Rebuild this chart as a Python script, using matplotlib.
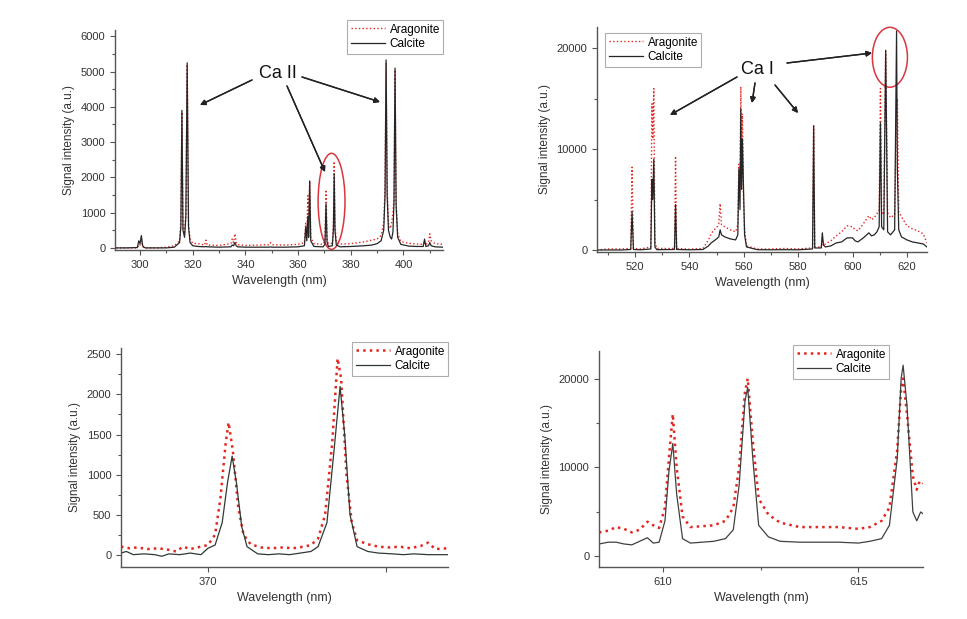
import matplotlib
matplotlib.use("Agg")
import matplotlib.pyplot as plt
from matplotlib.patches import Ellipse
from matplotlib.ticker import MultipleLocator, FixedLocator, FixedFormatter

plt.rcParams['font.family'] = ['Liberation Sans', 'DejaVu Sans']

# --- Panel a : Ca II region (300-415 nm) ---
TL_WL = [291, 295, 299, 299.5, 300, 300.5, 301, 301.5, 302, 306, 310, 313, 315, 315.5,
         315.9, 316.3, 316.9, 317.4, 317.9, 318.4, 319, 320, 322, 324.5, 325, 325.5, 330,
         334.5, 335, 335.5, 336, 336.5, 337, 340, 345, 349, 349.5, 350, 355, 360, 362.4,
         362.9, 363.3, 363.7, 364.0, 364.4, 364.8, 366, 369.5, 370.2, 370.6, 371.0, 371.5,
         373.0, 373.4, 373.7, 374.0, 374.5, 376, 380, 385, 388, 390, 391.5, 392.5, 393.0,
         393.4, 393.8, 394.3, 395.0, 395.5, 396.0, 396.4, 396.8, 397.2, 397.8, 399, 402,
         405, 407.5, 408, 408.5, 409.5, 410, 410.5, 412, 415]
TL_CALCITE = [0, 0, 10, 200, 120, 350, 60, 20, 0, 0, 0, 20, 150, 600,
              3900, 500, 300, 900, 5250, 600, 150, 60, 40, 30, 40, 30, 20,
              30, 80, 60, 150, 60, 30, 20, 20, 20, 30, 20, 20, 30, 60,
              600, 200, 900, 300, 1900, 200, 40, 30, 100, 1250, 150, 40,
              60, 500, 2100, 500, 80, 30, 40, 60, 80, 120, 200, 500, 1500,
              5330, 1500, 500, 300, 250, 450, 1300, 5100, 1200, 300, 100, 50,
              40, 40, 250, 40, 60, 150, 60, 30, 20]
TL_ARAGONITE = [0, 0, 0, 100, 80, 200, 40, 10, 0, 0, 20, 60, 200, 700,
                3850, 600, 400, 1000, 5200, 700, 250, 130, 120, 80, 220, 80, 70,
                120, 250, 150, 400, 150, 90, 70, 80, 90, 150, 90, 80, 100, 150,
                700, 300, 1480, 400, 1900, 300, 120, 100, 200, 1650, 250, 120,
                130, 700, 2450, 700, 150, 110, 120, 170, 220, 250, 350, 700, 1700,
                5250, 1700, 700, 550, 700, 1000, 1400, 5050, 1300, 400, 180, 130,
                110, 100, 150, 100, 150, 400, 200, 120, 100]

# --- Panel b : Ca I region (506-627 nm) ---
TR_WL = [506, 510, 515, 518.4, 518.9, 519.4, 522, 525.8, 526.2, 526.5, 526.9, 527.3, 528,
         534.5, 534.9, 535.3, 540, 545, 547, 548, 549, 550, 550.8, 551.3, 551.8, 553, 555,
         557, 557.8, 558.2, 558.6, 558.9, 559.2, 559.5, 559.9, 560.3, 561, 565, 570, 575,
         580, 585.3, 585.7, 586.1, 588.5, 588.9, 589.3, 590, 592, 594, 596, 598, 600, 601,
         602, 604, 606, 607, 608, 609, 609.8, 610.27, 610.7, 611.5, 612.2, 612.9, 614,
         615.5, 616.2, 616.5, 617, 618, 620, 622, 624, 626, 627.4]
TR_CALCITE = [0, 0, 0, 50, 3800, 50, 20, 100, 7000, 5000, 9000, 300, 30,
              50, 4500, 50, 20, 50, 400, 700, 900, 1100, 1300, 2000, 1500, 1300, 1100,
              1000, 1500, 8000, 4000, 14000, 6000, 11000, 6000, 1500, 300, 30, 20, 30,
              20, 100, 12300, 200, 200, 1700, 500, 300, 400, 700, 800, 1200, 1200, 900,
              800, 1200, 1700, 1400, 1500, 1800, 2300, 12600, 2300, 2000, 19800, 1800, 1500,
              2000, 21700, 8000, 2000, 1300, 1000, 800, 700, 600, 300]
TR_ARAGONITE = [0, 100, 100, 150, 8200, 150, 100, 300, 14500, 11000, 16000, 800, 150,
                150, 9300, 150, 80, 150, 1000, 1600, 2000, 2200, 2600, 4600, 2500, 2300, 2000,
                1800, 2500, 8500, 6000, 16200, 9000, 13500, 5000, 2000, 400, 100, 100, 150,
                100, 200, 12300, 300, 300, 1200, 400, 600, 900, 1400, 1800, 2400, 2300, 2000,
                1900, 2600, 3400, 3000, 3200, 3600, 4000, 16000, 3800, 3500, 19700, 3700, 3200,
                3500, 14000, 15000, 3800, 3300, 2400, 2100, 1900, 1600, 700]

# --- Panel c : zoom on the 370.6 / 373.7 nm doublet ---
BL_WL_A = [367.55, 367.8, 368.0, 368.3, 368.6, 368.9, 369.1, 369.3, 369.5, 369.8, 370.0,
           370.2, 370.35, 370.5, 370.58, 370.7, 370.85, 371.0, 371.2, 371.5, 371.8, 372.1,
           372.4, 372.7, 372.9, 373.1, 373.3, 373.5, 373.65, 373.75, 373.9, 374.05, 374.2,
           374.5, 374.8, 375.1, 375.4, 375.7, 376.0, 376.2, 376.4, 376.76]
BL_ARAGONITE = [100, 80, 90, 70, 80, 60, 40, 100, 70, 100, 120,
                250, 700, 1400, 1650, 1300, 600, 250, 130, 90, 80, 90,
                80, 100, 120, 200, 500, 1400, 2450, 2200, 1000, 400, 180,
                130, 100, 90, 100, 80, 110, 150, 70, 80]
BL_WL_C = [367.55, 367.7, 367.9, 368.2, 368.5, 368.7, 368.9, 369.2, 369.5, 369.8, 370.0,
           370.2, 370.4, 370.55, 370.68, 370.8, 370.95, 371.1, 371.4, 371.7, 372.0, 372.3,
           372.6, 372.9, 373.1, 373.35, 373.55, 373.72, 373.85, 374.0, 374.2, 374.5, 374.8,
           375.2, 375.5, 375.8, 376.2, 376.76]
BL_CALCITE = [20, 40, 0, 10, 0, -20, 10, 0, 20, 0, 80,
              120, 400, 900, 1230, 900, 350, 100, 10, 0, 10, 0,
              20, 40, 100, 400, 1300, 2100, 1500, 500, 100, 40, 20,
              10, 0, 10, 0, 0]

# --- Panel d : zoom on 610-616 nm Ca I lines ---
BR_WL = [608.36, 608.6, 608.8, 609.0, 609.2, 609.4, 609.6, 609.75, 609.9, 610.05, 610.15,
         610.25, 610.35, 610.5, 610.7, 611.0, 611.3, 611.6, 611.8, 611.95, 612.1, 612.17,
         612.3, 612.45, 612.7, 613.0, 613.5, 614.0, 614.5, 615.0, 615.3, 615.6, 615.8,
         616.0, 616.1, 616.15, 616.25, 616.4, 616.5, 616.55, 616.6, 616.66]
BR_ARAGONITE = [2700, 2900, 3300, 3100, 2700, 3000, 3900, 3500, 3200, 5500, 11000,
                16000, 10000, 4500, 3300, 3400, 3500, 4000, 5500, 10000, 18500, 20000,
                13000, 6500, 4700, 3800, 3300, 3300, 3300, 3100, 3300, 4000, 5500,
                12000, 19000, 20000, 16000, 9000, 7500, 8200, 8500, 8200]
BR_CALCITE = [1400, 1600, 1600, 1400, 1300, 1700, 2100, 1500, 1600, 4000, 9500,
              12700, 7000, 2000, 1500, 1600, 1700, 2000, 3000, 8000, 17500, 19000,
              11000, 3500, 2200, 1700, 1600, 1600, 1600, 1500, 1700, 2000, 3500,
              11000, 20000, 21500, 17000, 5000, 4000, 4500, 5000, 4800]

RED = '#e3261f'
BLACK = '#262626'
W, H = 967, 619


def style_axis(ax):
    for s in ('top', 'right'):
        ax.spines[s].set_visible(False)
    for s in ('left', 'bottom'):
        ax.spines[s].set_color('#555555')
        ax.spines[s].set_linewidth(1.0)
    ax.tick_params(which='both', direction='out', colors='#555555', labelcolor='#333333',
                   labelsize=8, width=0.8)
    ax.tick_params(which='major', length=3.5)
    ax.tick_params(which='minor', length=2)
    ax.set_xlabel('Wavelength (nm)', fontsize=9, color='#333333', labelpad=4)
    ax.set_ylabel('Signal intensity (a.u.)', fontsize=8.5, color='#333333')


def add_legend(ax, x, y):
    # x, y = top-left corner of the legend box in figure pixels (from top)
    leg = ax.legend(loc='upper left', fontsize=8.5, frameon=True, fancybox=False,
                    handlelength=2.9, borderpad=0.3, labelspacing=0.25,
                    handletextpad=0.4, borderaxespad=0,
                    bbox_to_anchor=(x / W, 1 - y / H), bbox_transform=fig.transFigure)
    leg.get_frame().set_edgecolor('#999999')
    leg.get_frame().set_linewidth(0.8)


def px_rect(x0, y0, x1, y1):
    return [x0 / W, 1 - y1 / H, (x1 - x0) / W, (y1 - y0) / H]


fig = plt.figure(figsize=(W / 100, H / 100), dpi=100)

# top-left
ax1 = fig.add_axes(px_rect(115, 30, 443, 250))
ax1.plot(TL_WL, TL_ARAGONITE, color=RED, ls=':', lw=1.0, label='Aragonite')
ax1.plot(TL_WL, TL_CALCITE, color=BLACK, lw=0.9, label='Calcite')
ax1.set_xlim(290.5, 415)
ax1.set_ylim(-60, 6180)
ax1.xaxis.set_major_locator(MultipleLocator(20))
ax1.xaxis.set_minor_locator(MultipleLocator(10))
ax1.yaxis.set_major_locator(MultipleLocator(1000))
ax1.yaxis.set_minor_locator(MultipleLocator(500))
style_axis(ax1)
add_legend(ax1, 347, 20)
ax1.add_patch(Ellipse((372.7, 1320), 10.2, 2725, fill=False, ec='#d9363e', lw=1.1, clip_on=False))

# top-right
ax2 = fig.add_axes(px_rect(597, 27, 927, 252))
ax2.plot(TR_WL, TR_ARAGONITE, color=RED, ls=':', lw=1.0, label='Aragonite')
ax2.plot(TR_WL, TR_CALCITE, color=BLACK, lw=0.9, label='Calcite')
ax2.set_xlim(506, 627.4)
ax2.set_ylim(-200, 22100)
ax2.xaxis.set_major_locator(MultipleLocator(20))
ax2.xaxis.set_minor_locator(MultipleLocator(10))
ax2.yaxis.set_major_locator(MultipleLocator(10000))
ax2.yaxis.set_minor_locator(MultipleLocator(5000))
style_axis(ax2)
add_legend(ax2, 605, 33)
ax2.add_patch(Ellipse((613.75, 19100), 12.9, 5940, fill=False, ec='#d9363e', lw=1.1, clip_on=False))

# bottom-left
ax3 = fig.add_axes(px_rect(121, 348, 448, 567))
ax3.plot(BL_WL_A, BL_ARAGONITE, color=RED, ls=':', lw=1.8, label='Aragonite')
ax3.plot(BL_WL_C, BL_CALCITE, color='#2f3a33', lw=0.9, label='Calcite')
ax3.set_xlim(367.55, 376.76)
ax3.set_ylim(-154, 2580)
ax3.xaxis.set_major_locator(FixedLocator([370, 375]))
ax3.xaxis.set_major_formatter(FixedFormatter(['370', '']))
ax3.yaxis.set_major_locator(MultipleLocator(500))
ax3.yaxis.set_minor_locator(MultipleLocator(250))
style_axis(ax3)
add_legend(ax3, 352, 342)

# bottom-right
ax4 = fig.add_axes(px_rect(599, 351, 923, 567))
ax4.plot(BR_WL, BR_ARAGONITE, color=RED, ls=':', lw=1.8, label='Aragonite')
ax4.plot(BR_WL, BR_CALCITE, color='#404040', lw=0.9, label='Calcite')
ax4.set_xlim(608.36, 616.66)
ax4.set_ylim(-1190, 23100)
ax4.xaxis.set_major_locator(MultipleLocator(5))
ax4.xaxis.set_minor_locator(MultipleLocator(2.5))
ax4.yaxis.set_major_locator(MultipleLocator(10000))
ax4.yaxis.set_minor_locator(MultipleLocator(5000))
style_axis(ax4)
add_legend(ax4, 793, 345)

# annotations (figure pixel coordinates, y measured from top)
arrow = dict(arrowstyle='-|>', color='#222222', lw=1.0, mutation_scale=8, shrinkA=0, shrinkB=0)


def fig_arrow(x0, y0, x1, y1):
    fig.add_artist(plt.annotate('', xy=(x1, H - y1), xycoords='figure pixels',
                                xytext=(x0, H - y0), textcoords='figure pixels',
                                arrowprops=arrow))


fig.text(278 / W, 1 - 73 / H, 'Ca II', fontsize=13, ha='center', va='center', color='#111111')
fig_arrow(252, 80, 200, 105)
fig_arrow(302, 77, 380, 102)
fig_arrow(287, 86, 325, 172)

fig.text(757 / W, 1 - 70 / H, 'Ca I', fontsize=13, ha='center', va='center', color='#111111')
fig_arrow(737, 77, 670, 115)
fig_arrow(755, 83, 752, 103)
fig_arrow(775, 85, 798, 113)
fig_arrow(787, 63, 872, 53)

fig.savefig('out.png', dpi=100)
